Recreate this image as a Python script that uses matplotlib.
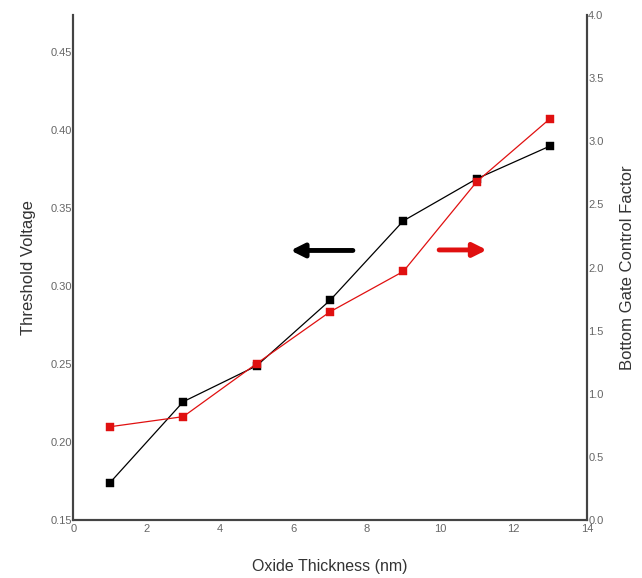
import numpy as np
import matplotlib.pyplot as plt

plt.rcParams['font.family'] = ['Liberation Sans', 'DejaVu Sans']

# Data
thickness = [1, 3, 5, 7, 9, 11, 13]
vth = [0.174, 0.226, 0.249, 0.291, 0.342, 0.369, 0.390]
bgcf = [0.74, 0.82, 1.24, 1.65, 1.97, 2.68, 3.18]

left_ticks = [0.15, 0.20, 0.25, 0.30, 0.35, 0.40, 0.45]
right_ticks = [0.0, 0.5, 1.0, 1.5, 2.0, 2.5, 3.0, 3.5, 4.0]
x_ticks = [0, 2, 4, 6, 8, 10, 12, 14]

fig = plt.figure(figsize=(6.42, 5.78), dpi=100)
ax = fig.add_axes([0.114, 0.100, 0.800, 0.874])
ax2 = ax.twinx()

ax.plot(thickness, vth, color='black', lw=0.9, marker='s', ms=6,
        mew=0.3, mec='black', mfc='black')
ax2.plot(thickness, bgcf, color='#e01010', lw=0.9, marker='s', ms=6,
         mew=0.3, mec='#e01010', mfc='#e01010')

ax.set_xlim(0, 14)
ax.set_ylim(0.15, 0.474)
ax2.set_ylim(0, 4.0)
ax.set_xticks(x_ticks)
ax.set_yticks(left_ticks)
ax.set_yticklabels(['%.2f' % v for v in left_ticks])
ax2.set_yticks(right_ticks)
ax2.set_yticklabels(['%.1f' % v for v in right_ticks])

for a in (ax, ax2):
    a.spines['top'].set_visible(False)
    for s in a.spines.values():
        s.set_linewidth(1.5)
        s.set_color('#444444')
    a.tick_params(length=0, labelsize=8, labelcolor='#666666')
ax.tick_params(axis='y', pad=1)
ax.tick_params(axis='x', pad=3)
ax2.tick_params(axis='y', pad=1)

ax.set_xlabel('Oxide Thickness (nm)', fontsize=11.5, color='#333333', labelpad=18)
ax.set_ylabel('Threshold Voltage', fontsize=12, color='#333333', labelpad=10)
ax2.set_ylabel('Bottom Gate Control Factor', fontsize=12, color='#333333', labelpad=12)

# arrows indicating which axis each curve uses
ax.annotate('', xy=(5.85, 0.323), xytext=(7.7, 0.323),
            arrowprops=dict(arrowstyle='-|>', color='black', lw=3.5, mutation_scale=20))
ax2.annotate('', xy=(11.35, 2.14), xytext=(9.9, 2.14),
             arrowprops=dict(arrowstyle='-|>', color='#e01010', lw=3.5, mutation_scale=20))

fig.savefig('out.png', dpi=100)
